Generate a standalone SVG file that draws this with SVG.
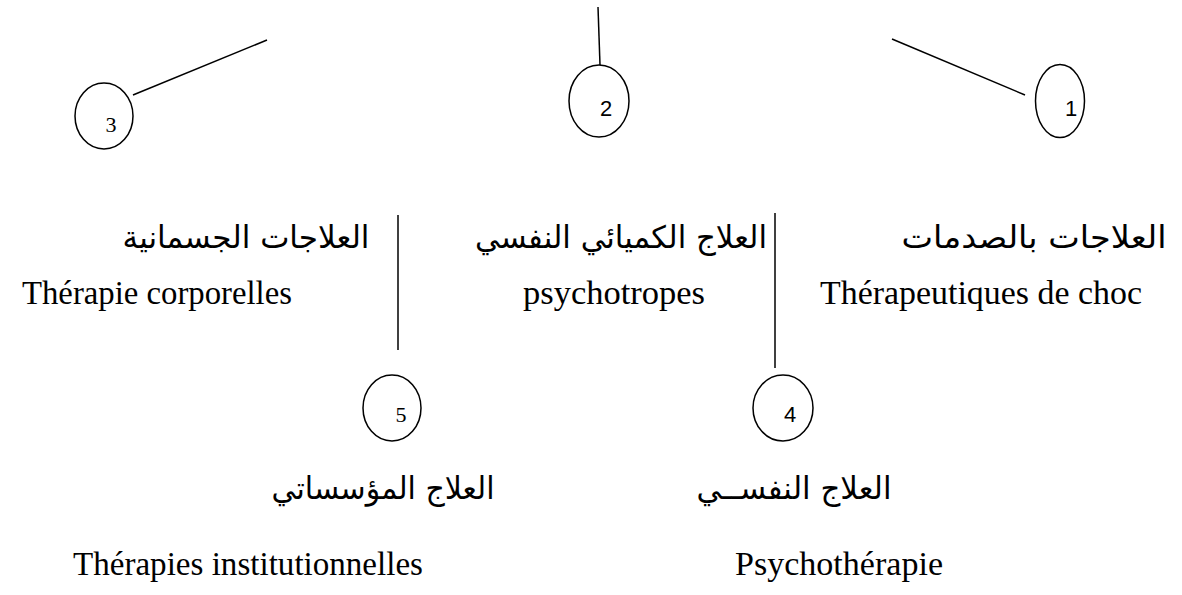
<svg xmlns="http://www.w3.org/2000/svg" width="1182" height="595" viewBox="0 0 1182 595">
<style>
.bg{fill:#ffffff}
.ln{stroke:#000;stroke-width:1.5;fill:none}
.c{fill:#fff;stroke:#000;stroke-width:1.5}
.num{font-family:"Liberation Sans","DejaVu Sans",sans-serif;font-size:22px;fill:#000;text-anchor:middle}
.numt{font-family:"Liberation Serif","DejaVu Serif",serif;font-size:22px;fill:#000;text-anchor:middle}
.fr{font-family:"Liberation Serif","Times New Roman",serif;font-size:33px;fill:#000;text-anchor:middle}
.ar{font-family:"DejaVu Sans","Liberation Serif",sans-serif;font-size:31px;fill:#000;text-anchor:middle}
</style>
<rect class="bg" x="0" y="0" width="1182" height="595"/>
<g id="connectors">
<line class="ln" x1="133" y1="95" x2="267" y2="40"/>
<line class="ln" x1="598" y1="7" x2="600" y2="65"/>
<line class="ln" x1="892" y1="39" x2="1025" y2="95"/>
<line class="ln" x1="398" y1="215" x2="398" y2="350"/>
<line class="ln" x1="775" y1="213" x2="775" y2="368"/>
</g>
<g id="n3">
<ellipse class="c" cx="104" cy="116" rx="29" ry="33"/>
<text class="numt" x="111" y="132">3</text>
</g>
<g id="n2">
<ellipse class="c" cx="599" cy="101" rx="30" ry="36"/>
<text class="num" x="606" y="116">2</text>
</g>
<g id="n1">
<ellipse class="c" cx="1060" cy="101" rx="24.5" ry="36.5"/>
<text class="num" x="1071" y="116">1</text>
</g>
<g id="n5">
<ellipse class="c" cx="392" cy="408" rx="29" ry="33"/>
<text class="numt" x="401" y="422">5</text>
</g>
<g id="n4">
<ellipse class="c" cx="783" cy="408" rx="30" ry="33"/>
<text class="num" x="790" y="422">4</text>
</g>
<g id="t-corp">
<text class="ar" x="246" y="248" textLength="247" lengthAdjust="spacingAndGlyphs">العلاجات الجسمانية</text>
<text class="fr" x="157" y="304" textLength="270" lengthAdjust="spacingAndGlyphs">Thérapie corporelles</text>
</g>
<g id="t-psychotropes">
<text class="ar" x="621" y="248" textLength="292" lengthAdjust="spacingAndGlyphs">العلاج الكميائي النفسي</text>
<text class="fr" x="614" y="304" textLength="182" lengthAdjust="spacingAndGlyphs">psychotropes</text>
</g>
<g id="t-choc">
<text class="ar" x="1034" y="248" textLength="265" lengthAdjust="spacingAndGlyphs">العلاجات بالصدمات</text>
<text class="fr" x="981" y="304" textLength="322" lengthAdjust="spacingAndGlyphs">Thérapeutiques de choc</text>
</g>
<g id="t-inst">
<text class="ar" x="383" y="499" textLength="223" lengthAdjust="spacingAndGlyphs">العلاج المؤسساتي</text>
<text class="fr" x="248" y="575" textLength="350" lengthAdjust="spacingAndGlyphs">Thérapies institutionnelles</text>
</g>
<g id="t-psycho">
<text class="ar" x="794" y="499" textLength="195" lengthAdjust="spacingAndGlyphs">العلاج النفســي</text>
<text class="fr" x="839" y="575" textLength="208" lengthAdjust="spacingAndGlyphs">Psychothérapie</text>
</g>
</svg>
